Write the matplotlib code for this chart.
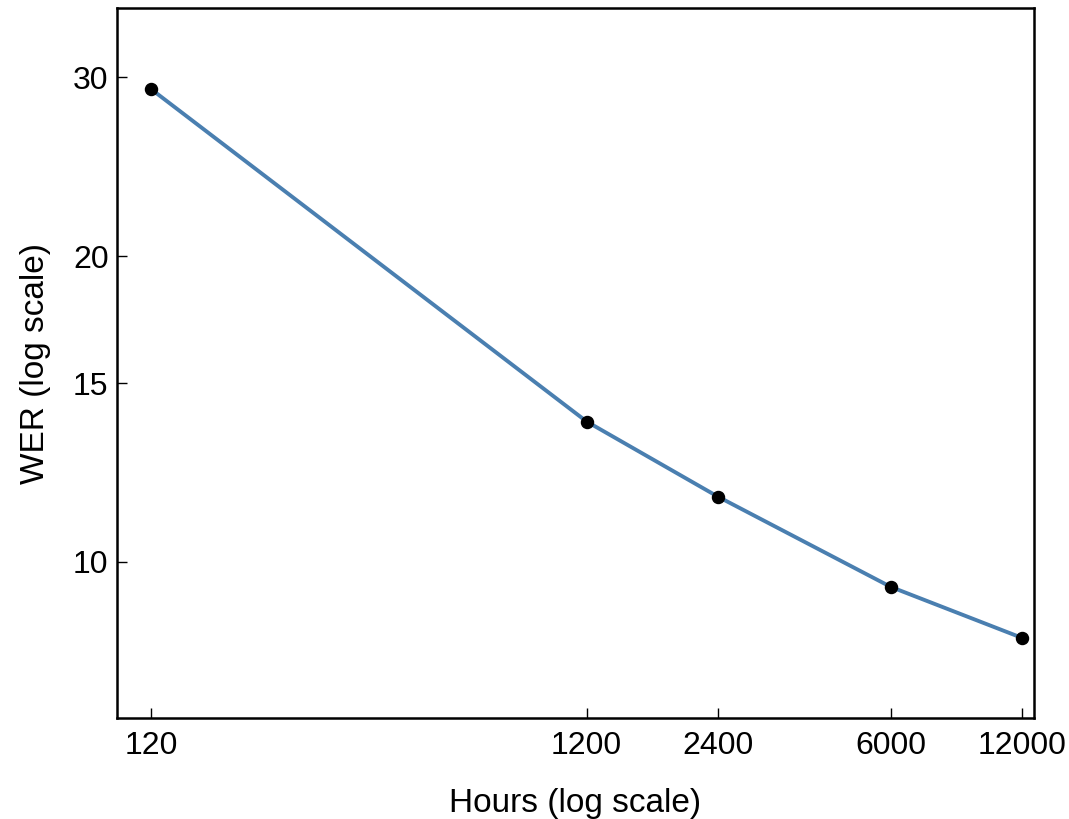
import numpy as np
import matplotlib.pyplot as plt
from matplotlib.ticker import FixedLocator, FixedFormatter, NullLocator

# ── Dados ──────────────────────────────────────────────────────────────────────
hours = [120, 1200, 2400, 6000, 12000]
wer = [29.2, 13.75, 11.6, 9.45, 8.42]
x_ticks = [120, 1200, 2400, 6000, 12000]
y_ticks = [10, 15, 20, 30]

plt.rcParams.update({
    "font.family": ["Liberation Sans", "DejaVu Sans"],
    "font.size": 23,
})

fig = plt.figure(figsize=(10.69, 8.19), dpi=100)
ax = fig.add_axes([0.1094, 0.1233, 0.8579, 0.8667])

ax.plot(hours, wer, color="#4a7fb0", linewidth=2.8, zorder=2)
ax.scatter(hours, wer, s=75, color="black", zorder=3)

ax.set_xscale("log")
ax.set_yscale("log")
ax.set_xlim(100, 12800)
ax.set_ylim(7.02, 35.1)

ax.xaxis.set_major_locator(FixedLocator(x_ticks))
ax.xaxis.set_major_formatter(FixedFormatter([str(v) for v in x_ticks]))
ax.xaxis.set_minor_locator(NullLocator())
ax.yaxis.set_major_locator(FixedLocator(y_ticks))
ax.yaxis.set_major_formatter(FixedFormatter([str(v) for v in y_ticks]))
ax.yaxis.set_minor_locator(NullLocator())

ax.tick_params(direction="in", length=7, width=1, top=False, right=False)
ax.tick_params(axis="x", pad=9)
ax.tick_params(axis="y", pad=6)

for s in ax.spines.values():
    s.set_linewidth(1.8)
    s.set_color("black")

ax.set_xlabel("Hours (log scale)", fontsize=24, labelpad=20)
ax.set_ylabel("WER (log scale)", fontsize=24, labelpad=16)

fig.savefig("out.png", dpi=100)
